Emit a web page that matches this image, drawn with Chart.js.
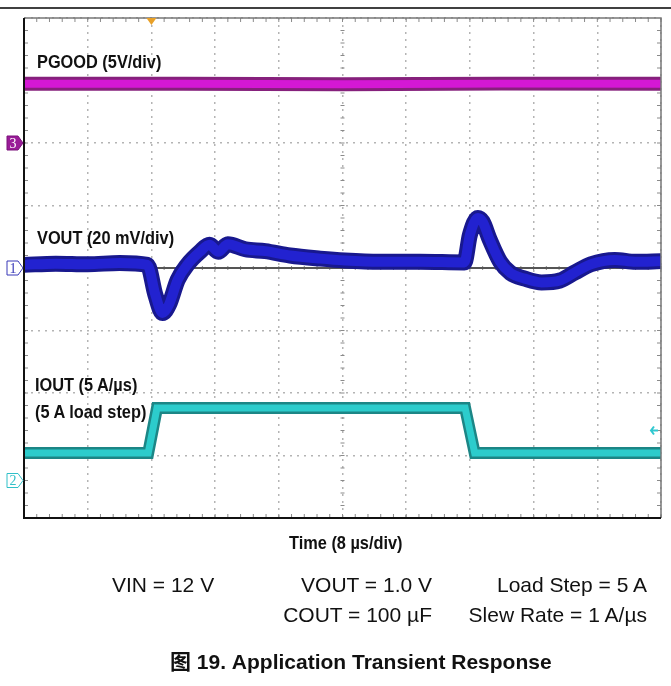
<!DOCTYPE html>
<html>
<head>
<meta charset="utf-8">
<script src="https://cdn.jsdelivr.net/npm/chart.js@4.4.1/dist/chart.umd.min.js"></script>
<style>
    html, body { margin: 0; padding: 0; background: #fff; }
    #wrap { position: relative; width: 671px; height: 686px; overflow: hidden; }
    #grafica { position: absolute; left: 0; top: 0; }
    .lbl { position: absolute; white-space: nowrap; font-family: "Liberation Sans", Arial, sans-serif; color: #111; }
    .scope { font-size: 19px; line-height: 19px; font-weight: bold; transform: scaleX(0.86); transform-origin: left center; }
    .cond { font-size: 21px; line-height: 21px; }
    .titulo { font-size: 21px; line-height: 21px; font-weight: bold; font-family: "Liberation Sans", "Noto Sans CJK SC", sans-serif; }
</style>
</head>
<body>
<div id="wrap">
    <canvas id="grafica" width="671" height="686"></canvas>

    <div class="lbl scope" style="left:37px; top:52px;">PGOOD (5V/div)</div>
    <div class="lbl scope" style="left:37px; top:228px;">VOUT (20 mV/div)</div>
    <div class="lbl scope" style="left:35px; top:375px;">IOUT (5 A/µs)</div>
    <div class="lbl scope" style="left:35px; top:402px;">(5 A load step)</div>
    <div class="lbl scope" style="left:289px; top:533px;">Time (8 µs/div)</div>

    <div class="lbl cond" style="left:112px; top:574px;">VIN = 12 V</div>
    <div class="lbl cond" style="right:239px; top:574px;">VOUT = 1.0 V</div>
    <div class="lbl cond" style="right:24px; top:574px;">Load Step = 5 A</div>
    <div class="lbl cond" style="right:239px; top:604px;">COUT = 100 µF</div>
    <div class="lbl cond" style="right:24px; top:604px;">Slew Rate = 1 A/µs</div>

    <div class="lbl titulo" style="left:170px; top:651px;">图 19. Application Transient Response</div>
</div>

<script>
const pgoodTiempo = [0, 20, 40, 60, 80];
const pgoodDiv = [2.95, 2.95, 2.94, 2.95, 2.95];

const voutTiempo = [0, 4, 8, 12, 15.5, 16.5, 17.4, 18.2, 19.3, 20.5, 22.1, 23.3, 24.4, 25.6, 27.8, 30.3, 33.4, 37.2, 40.3, 44.7, 49.7, 55.3, 56.0, 57.0, 57.6, 58.5, 59.8, 61.1, 62.9, 65.0, 67.3, 69.2, 71.2, 74.2, 76.8, 80];
const voutDiv = [0.05, 0.07, 0.06, 0.08, 0.05, -0.43, -0.72, -0.59, -0.19, 0.05, 0.26, 0.37, 0.26, 0.38, 0.30, 0.27, 0.20, 0.15, 0.12, 0.10, 0.10, 0.09, 0.53, 0.80, 0.74, 0.45, 0.10, -0.08, -0.17, -0.23, -0.20, -0.07, 0.06, 0.13, 0.10, 0.11];

const ioutTiempo = [0, 15.6, 16.7, 55.4, 56.6, 80];
const ioutDiv = [-2.96, -2.96, -2.24, -2.24, -2.96, -2.96];

// Referencias de canal y disparo
const refCanal1 = 0;
const refCanal2 = -3.4;
const refCanal3 = 2.0;
const tiempoDisparo = 16;
const nivelDisparo = -2.6;

function puntos(xs, ys) {
    return xs.map((x, i) => ({ x: x, y: ys[i] }));
}

// Plugin para dibujar marco, marcas menores e indicadores de canal
const decoracionOsciloscopio = {
    id: 'decoracionOsciloscopio',
    beforeDatasetsDraw(chart) {
        const { ctx, chartArea, scales } = chart;
        const { left, right, top, bottom } = chartArea;
        ctx.save();

        // Marcas menores (5 por división) en bordes y ejes centrales
        ctx.strokeStyle = '#8a8a8a';
        ctx.lineWidth = 1;
        const xc = scales.x.getPixelForValue(40);
        const yc = scales.y.getPixelForValue(0);
        for (let t = 0; t <= 80; t += 1.6) {
            const px = scales.x.getPixelForValue(t);
            ctx.beginPath();
            ctx.moveTo(px, top); ctx.lineTo(px, top + 4);
            ctx.moveTo(px, bottom); ctx.lineTo(px, bottom - 4);
            ctx.moveTo(px, yc - 2); ctx.lineTo(px, yc + 2);
            ctx.stroke();
        }
        for (let v = -4; v <= 4; v += 0.2) {
            const py = scales.y.getPixelForValue(v);
            ctx.beginPath();
            ctx.moveTo(left, py); ctx.lineTo(left + 4, py);
            ctx.moveTo(right, py); ctx.lineTo(right - 4, py);
            ctx.moveTo(xc - 2, py); ctx.lineTo(xc + 2, py);
            ctx.stroke();
        }
        ctx.restore();
    },
    afterDraw(chart) {
        const { ctx, chartArea, scales } = chart;
        const { left, right, top, bottom } = chartArea;
        ctx.save();

        // Línea superior de la página
        ctx.strokeStyle = '#000';
        ctx.lineWidth = 1.5;
        ctx.beginPath();
        ctx.moveTo(0, top - 10); ctx.lineTo(chart.width, top - 10);
        ctx.stroke();

        // Marco de la retícula
        ctx.strokeStyle = '#777';
        ctx.lineWidth = 1.5;
        ctx.beginPath();
        ctx.moveTo(left, top); ctx.lineTo(right, top); ctx.lineTo(right, bottom);
        ctx.stroke();
        ctx.strokeStyle = '#111';
        ctx.lineWidth = 2;
        ctx.beginPath();
        ctx.moveTo(left, top); ctx.lineTo(left, bottom); ctx.lineTo(right, bottom);
        ctx.stroke();

        // Indicador de disparo (triángulo naranja)
        const xd = scales.x.getPixelForValue(tiempoDisparo);
        ctx.fillStyle = '#e8a028';
        ctx.beginPath();
        ctx.moveTo(xd - 5, top); ctx.lineTo(xd + 5, top); ctx.lineTo(xd, top + 7);
        ctx.closePath();
        ctx.fill();

        // Nivel de disparo (flecha cian a la derecha)
        const yn = scales.y.getPixelForValue(nivelDisparo);
        ctx.strokeStyle = '#30c8d0';
        ctx.lineWidth = 2;
        ctx.beginPath();
        ctx.moveTo(right - 10, yn); ctx.lineTo(right - 3, yn);
        ctx.moveTo(right - 7, yn - 4); ctx.lineTo(right - 10, yn); ctx.lineTo(right - 7, yn + 4);
        ctx.stroke();

        // Etiquetas de canal
        const insignia = (ref, texto, relleno, borde, colorTexto) => {
            const y = scales.y.getPixelForValue(ref);
            const x0 = left - 17;
            ctx.beginPath();
            ctx.moveTo(x0, y - 7); ctx.lineTo(left - 6, y - 7); ctx.lineTo(left - 1, y);
            ctx.lineTo(left - 6, y + 7); ctx.lineTo(x0, y + 7);
            ctx.closePath();
            ctx.fillStyle = relleno;
            ctx.fill();
            ctx.strokeStyle = borde;
            ctx.lineWidth = 1;
            ctx.stroke();
            ctx.fillStyle = colorTexto;
            ctx.font = '14px "Liberation Serif", serif';
            ctx.textAlign = 'center';
            ctx.textBaseline = 'middle';
            ctx.fillText(texto, x0 + 6, y + 1);
        };
        insignia(refCanal3, '3', '#9a1c98', '#7a107a', '#fff');
        insignia(refCanal1, '1', '#fff', '#3838b8', '#3838b8');
        insignia(refCanal2, '2', '#fff', '#30c0c8', '#30c0c8');

        ctx.restore();
    }
};

const ctx = document.getElementById('grafica').getContext('2d');

// order: mayor valor se dibuja primero (debajo)
window.graficaOsciloscopio = new Chart(ctx, {
    type: 'line',
    data: {
        datasets: [
            {
                // Línea de referencia del canal 1
                data: puntos([0, 80], [refCanal1, refCanal1]),
                borderColor: '#555',
                borderWidth: 2,
                order: 10
            },
            {
                label: 'PGOOD',
                data: puntos(pgoodTiempo, pgoodDiv),
                borderColor: '#86207c',
                borderWidth: 14,
                order: 5
            },
            {
                data: puntos(pgoodTiempo, pgoodDiv),
                borderColor: '#d418d4',
                borderWidth: 8,
                order: 1
            },
            {
                label: 'VOUT',
                data: puntos(voutTiempo, voutDiv),
                borderColor: '#18188e',
                borderWidth: 16,
                cubicInterpolationMode: 'monotone',
                order: 5
            },
            {
                data: puntos(voutTiempo, voutDiv),
                borderColor: '#2222d0',
                borderWidth: 10,
                cubicInterpolationMode: 'monotone',
                order: 1
            },
            {
                label: 'IOUT',
                data: puntos(ioutTiempo, ioutDiv),
                borderColor: '#1c8686',
                borderWidth: 12,
                order: 5
            },
            {
                data: puntos(ioutTiempo, ioutDiv),
                borderColor: '#2ccccc',
                borderWidth: 7,
                order: 1
            }
        ]
    },
    options: {
        responsive: false,
        animation: false,
        clip: false,
        layout: {
            padding: { left: 24, top: 18, right: 10, bottom: 168 }
        },
        elements: {
            point: { radius: 0 },
            line: { tension: 0, borderCapStyle: 'butt' }
        },
        scales: {
            x: {
                type: 'linear',
                min: 0,
                max: 80,
                ticks: { display: false, stepSize: 8 },
                grid: { color: '#b4b4b4', lineWidth: 1.5, drawTicks: false },
                border: { display: false, dash: [2, 5] }
            },
            y: {
                type: 'linear',
                min: -4,
                max: 4,
                ticks: { display: false, stepSize: 1 },
                grid: { color: '#b4b4b4', lineWidth: 1.5, drawTicks: false },
                border: { display: false, dash: [2, 5] }
            }
        },
        plugins: {
            legend: { display: false },
            tooltip: { enabled: false }
        }
    },
    plugins: [decoracionOsciloscopio]
});
</script>
</body>
</html>
